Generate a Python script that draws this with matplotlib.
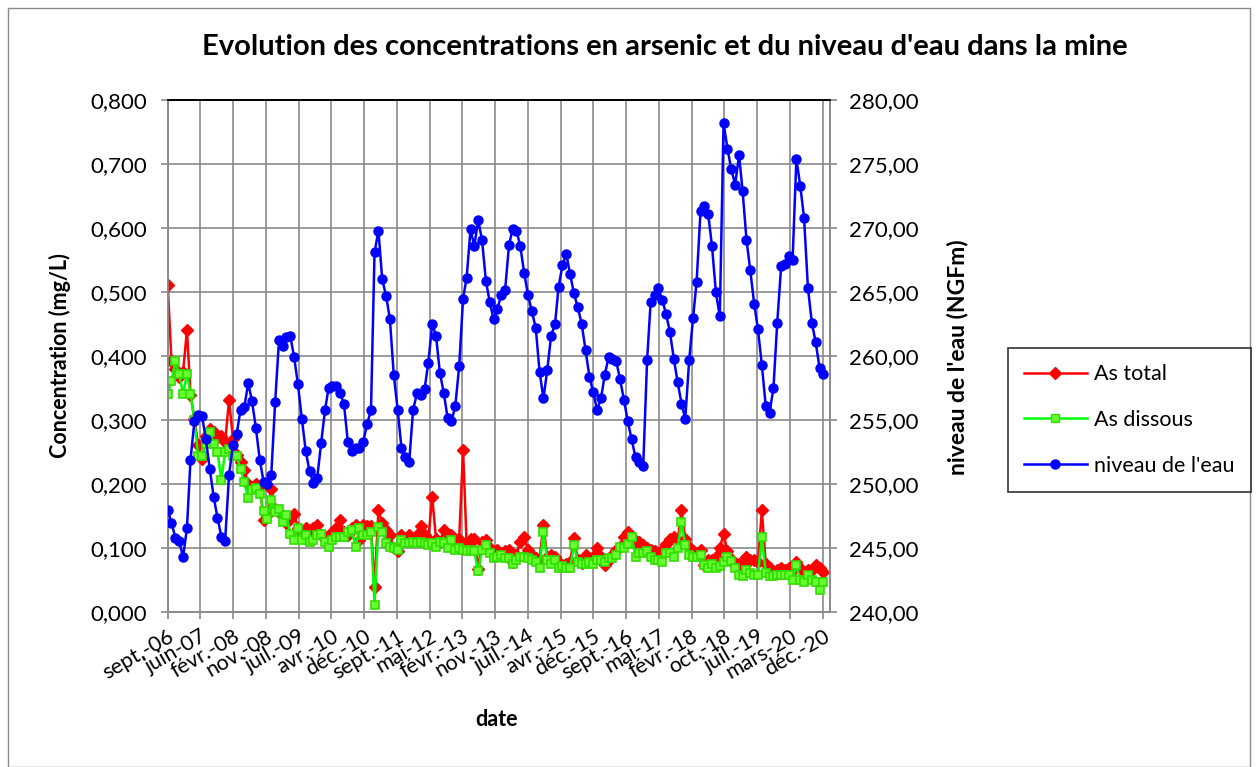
import matplotlib
matplotlib.use("Agg")
import matplotlib.pyplot as plt
from matplotlib.lines import Line2D
from matplotlib.patches import Rectangle
import pandas as pd

plt.rcParams['font.family'] = ['Lato', 'DejaVu Sans']

# ---- data -------------------------------------------------------------
first_sample = "2006-09-20"
n_samples = 172

as_total = [
    0.511, 0.392, 0.380, 0.367, 0.375, 0.441, 0.340, 0.302, 0.261, 0.240,
    0.276, 0.287, 0.282, 0.274, 0.276, 0.266, 0.332, 0.271, 0.245, 0.235,
    0.222, 0.201, 0.196, 0.201, 0.198, 0.144, 0.152, 0.193, 0.162, 0.157,
    0.151, 0.140, 0.146, 0.154, 0.131, 0.125, 0.131, 0.128, 0.131, 0.136,
    0.120, 0.118, 0.113, 0.126, 0.131, 0.144, 0.126, 0.120, 0.131, 0.136,
    0.113, 0.136, 0.134, 0.134, 0.040, 0.159, 0.140, 0.128, 0.120, 0.100,
    0.095, 0.120, 0.113, 0.120, 0.115, 0.120, 0.134, 0.120, 0.115, 0.180,
    0.115, 0.110, 0.128, 0.123, 0.120, 0.115, 0.115, 0.253, 0.107, 0.115,
    0.115, 0.068, 0.110, 0.113, 0.100, 0.095, 0.097, 0.092, 0.095, 0.097,
    0.079, 0.090, 0.110, 0.118, 0.097, 0.090, 0.085, 0.082, 0.137, 0.087,
    0.090, 0.087, 0.077, 0.074, 0.076, 0.079, 0.116, 0.082, 0.077, 0.090,
    0.085, 0.087, 0.100, 0.087, 0.074, 0.082, 0.089, 0.097, 0.102, 0.118,
    0.126, 0.118, 0.110, 0.110, 0.105, 0.100, 0.097, 0.095, 0.089, 0.097,
    0.107, 0.115, 0.118, 0.110, 0.159, 0.115, 0.102, 0.095, 0.092, 0.097,
    0.074, 0.082, 0.082, 0.087, 0.100, 0.123, 0.095, 0.083, 0.074, 0.076,
    0.072, 0.087, 0.082, 0.082, 0.078, 0.159, 0.076, 0.069, 0.063, 0.066,
    0.069, 0.066, 0.069, 0.066, 0.079, 0.069, 0.063, 0.066, 0.066, 0.074,
    0.069, 0.063,
]

as_dissous = [
    0.341, 0.361, 0.392, 0.372, 0.341, 0.372, 0.341, 0.300, 0.244, 0.244,
    0.263, 0.282, 0.263, 0.251, 0.206, 0.251, 0.255, 0.244, 0.244, 0.224,
    0.204, 0.178, 0.191, 0.194, 0.185, 0.158, 0.146, 0.175, 0.157, 0.162,
    0.141, 0.152, 0.123, 0.113, 0.131, 0.113, 0.120, 0.110, 0.113, 0.120,
    0.123, 0.110, 0.102, 0.113, 0.118, 0.118, 0.118, 0.126, 0.128, 0.102,
    0.131, 0.120, 0.120, 0.125, 0.012, 0.133, 0.126, 0.108, 0.102, 0.100,
    0.098, 0.113, 0.108, 0.108, 0.110, 0.108, 0.110, 0.108, 0.105, 0.108,
    0.102, 0.110, 0.108, 0.100, 0.113, 0.097, 0.100, 0.097, 0.095, 0.097,
    0.095, 0.064, 0.097, 0.105, 0.092, 0.085, 0.087, 0.090, 0.085, 0.085,
    0.076, 0.082, 0.087, 0.087, 0.085, 0.082, 0.079, 0.069, 0.126, 0.082,
    0.076, 0.082, 0.069, 0.072, 0.069, 0.069, 0.105, 0.079, 0.076, 0.076,
    0.079, 0.076, 0.082, 0.082, 0.079, 0.085, 0.085, 0.089, 0.102, 0.100,
    0.106, 0.118, 0.087, 0.092, 0.092, 0.095, 0.087, 0.082, 0.082, 0.079,
    0.092, 0.092, 0.087, 0.100, 0.141, 0.105, 0.089, 0.087, 0.087, 0.089,
    0.074, 0.069, 0.076, 0.069, 0.072, 0.078, 0.087, 0.080, 0.069, 0.058,
    0.056, 0.066, 0.061, 0.058, 0.058, 0.118, 0.061, 0.056, 0.056, 0.058,
    0.058, 0.058, 0.058, 0.050, 0.074, 0.050, 0.048, 0.058, 0.050, 0.048,
    0.035, 0.048,
]

niveau_eau = [
    248.0, 247.0, 245.8, 245.6, 244.3, 246.6, 251.9, 254.9, 255.4, 255.3,
    253.5, 251.2, 249.0, 247.4, 245.9, 245.6, 250.7, 253.1, 253.9, 255.8,
    256.0, 257.9, 256.5, 254.4, 251.9, 250.2, 250.0, 250.7, 256.4, 261.3,
    260.8, 261.5, 261.6, 259.9, 257.8, 255.1, 252.6, 251.0, 250.1, 250.5,
    253.2, 255.8, 257.5, 257.7, 257.7, 257.1, 256.3, 253.3, 252.6, 252.8,
    252.8, 253.3, 254.7, 255.8, 268.1, 269.8, 266.0, 264.7, 262.9, 258.5,
    255.8, 252.8, 252.1, 251.7, 255.8, 257.1, 257.0, 257.4, 259.5, 262.5,
    261.6, 258.7, 257.1, 255.2, 254.9, 256.1, 259.2, 264.5, 266.1, 269.9,
    268.6, 270.6, 269.1, 265.9, 264.2, 262.9, 263.7, 264.8, 265.2, 268.7,
    269.9, 269.8, 268.6, 266.5, 264.8, 263.5, 262.2, 258.8, 256.7, 258.9,
    261.6, 262.5, 265.4, 267.1, 268.0, 266.4, 264.9, 263.8, 262.5, 260.5,
    258.4, 257.2, 255.8, 256.7, 258.5, 259.9, 259.8, 259.6, 258.2, 256.6,
    254.9, 253.5, 252.1, 251.7, 251.4, 259.7, 264.2, 264.8, 265.3, 264.4,
    263.3, 261.9, 259.8, 258.0, 256.3, 255.1, 259.7, 263.0, 265.8, 271.3,
    271.7, 271.1, 268.6, 265.0, 263.1, 278.2, 276.2, 274.6, 273.4, 275.7,
    272.9, 269.1, 266.7, 264.1, 262.1, 259.3, 256.1, 255.6, 257.5, 262.6,
    267.0, 267.2, 267.8, 267.5, 275.4, 273.3, 270.8, 265.3, 262.6, 261.1,
    259.1, 258.6,
]

tick_labels = ["sept.-06", "juin-07", "févr.-08", "nov.-08", "juil.-09",
               "avr.-10", "déc.-10", "sept.-11", "mai-12", "févr.-13",
               "nov.-13", "juil.-14", "avr.-15", "déc.-15", "sept.-16",
               "mai-17", "févr.-18", "oct.-18", "juil.-19", "mars-20",
               "déc.-20"]
tick_step_days = 260

left_ticks = [0.0, 0.1, 0.2, 0.3, 0.4, 0.5, 0.6, 0.7, 0.8]
right_ticks = [240, 245, 250, 255, 260, 265, 270, 275, 280]

# ---- build ------------------------------------------------------------
start = pd.Timestamp(first_sample)
dates = pd.date_range("2006-09-01", periods=n_samples, freq="MS") + pd.Timedelta(days=19)
tick_dates = [start + pd.Timedelta(days=tick_step_days * k) for k in range(len(tick_labels))]

W, H = 1258, 767
fig = plt.figure(figsize=(W / 100, H / 100), dpi=100)
fig.patch.set_facecolor("white")

L, R, T, B = 167.7, 830, 100, 612.3
ax = fig.add_axes([L / W, 1 - B / H, (R - L) / W, (B - T) / H])
ax2 = ax.twinx()

grid_c = "#8a8a8a"
ax.set_xlim(start, start + pd.Timedelta(days=tick_step_days * 20 + 58))
ax.set_ylim(0, 0.8)
ax2.set_ylim(240, 280)

tick_fs = 16
ax.set_xticks(tick_dates)
ax.set_xticklabels(tick_labels, rotation=30, ha="right", rotation_mode="anchor", fontsize=15.5)
ax.set_yticks(left_ticks)
ax.set_yticklabels([f"{v:.3f}".replace(".", ",") for v in left_ticks], fontsize=tick_fs)
ax2.set_yticks(right_ticks)
ax2.set_yticklabels([f"{v:.2f}".replace(".", ",") for v in right_ticks], fontsize=tick_fs)

ax.grid(True, color=grid_c, linewidth=1.2)
ax.set_axisbelow(True)
for a in (ax, ax2):
    for s in a.spines.values():
        s.set_color(grid_c)
        s.set_linewidth(1.2)
    a.spines["top"].set_color("#000000")
ax.tick_params(axis="x", direction="out", length=5, width=1.2, color=grid_c, pad=5)
ax.tick_params(axis="y", direction="out", length=5, width=1.2, color=grid_c, pad=10)
ax2.tick_params(axis="y", direction="out", length=5, width=1.2, color=grid_c, pad=9)

ax.plot(dates, as_total, color="#ff0000", lw=1.8, marker="D", ms=6.5,
        mfc="#ff0000", mec="#ff0000", zorder=3)
ax.plot(dates, as_dissous, color="#00ff00", lw=1.8, marker="s", ms=6,
        mfc="#66ff33", mec="#33dd00", mew=1.2, zorder=4)
ax2.plot(dates, niveau_eau, color="#0000ff", lw=1.8, marker="o", ms=6.5,
         mfc="#0000ff", mec="#0000ff", zorder=5)

fig.text(60 / W, 1 - 356 / H, "Concentration (mg/L)", fontsize=15.5, fontweight="bold",
         rotation=90, ha="center", va="center")
fig.text(957 / W, 1 - 357 / H, "niveau de l'eau (NGFm)", fontsize=16.5, fontweight="bold",
         rotation=90, ha="center", va="center")
fig.text(497 / W, 1 - 720 / H, "date", fontsize=15.5, fontweight="bold", ha="center", va="center")
fig.text(665 / W, 1 - 47 / H,
         "Evolution des concentrations en arsenic et du niveau d'eau dans la mine",
         fontsize=21, fontweight="bold", ha="center", va="center")

handles = [
    Line2D([], [], color="#ff0000", lw=1.8, marker="D", ms=6.5, mfc="#ff0000", mec="#ff0000"),
    Line2D([], [], color="#00ff00", lw=1.8, marker="s", ms=6, mfc="#66ff33", mec="#33dd00"),
    Line2D([], [], color="#0000ff", lw=1.8, marker="o", ms=6.5, mfc="#0000ff", mec="#0000ff"),
]
leg = fig.legend(handles, ["As total", "As dissous", "niveau de l'eau"],
                 loc="center left", bbox_to_anchor=(1008 / W, 1 - 420 / H),
                 fontsize=15.5, frameon=True, fancybox=False, edgecolor="#000000",
                 handlelength=2.9, labelspacing=1.2, borderpad=0.75, handletextpad=0.35,
                 borderaxespad=0)
leg.get_frame().set_linewidth(1.2)

fig.patches.append(Rectangle((8 / W, 0), (1250 - 8) / W, 1 - 8 / H, transform=fig.transFigure,
                             fill=False, edgecolor="#8a8a8a", linewidth=1.0))

fig.savefig("out.png", dpi=100)
